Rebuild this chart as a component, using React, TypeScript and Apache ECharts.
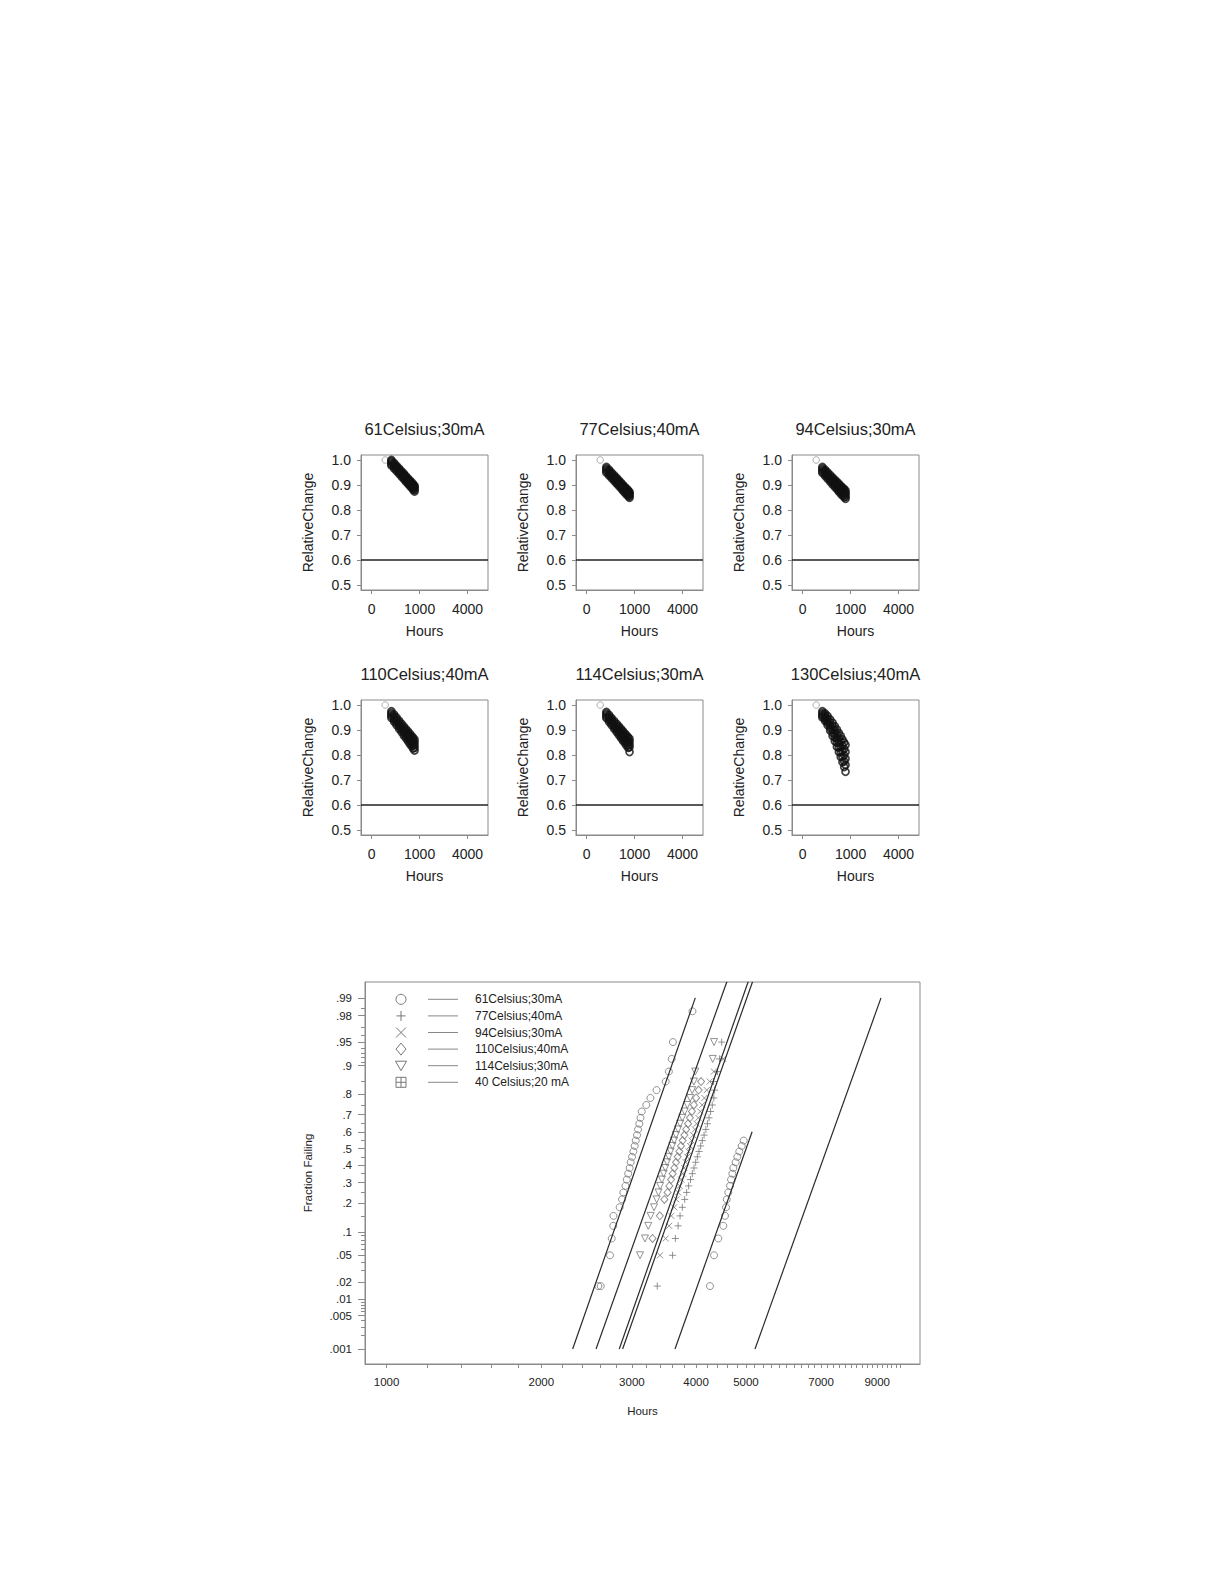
import React, { useEffect, useRef } from 'react';
import * as echarts from 'echarts';

const FONT = "'Liberation Sans', Arial, Helvetica, sans-serif";

// ---------- top panels ----------
const PANEL_TITLES = ['61Celsius;30mA', '77Celsius;40mA', '94Celsius;30mA', '110Celsius;40mA', '114Celsius;30mA', '130Celsius;40mA'];
const TOP_TIMES = [170, 220, 270, 330, 390, 450, 510, 570, 630, 690, 750, 800];
const FIRST_TIME = 80;
const FIRST_VALUE = 1.0;
const THRESHOLD = 0.6;
const TOP_X_TICKS = [0, 1000, 4000];
const TOP_Y_TICKS = [0.5, 0.6, 0.7, 0.8, 0.9, 1.0];

const P61_30 = [
  [1.000, 0.988, 0.977, 0.966, 0.955, 0.946, 0.936, 0.927, 0.919, 0.912, 0.904, 0.897],
  [0.995, 0.983, 0.972, 0.961, 0.950, 0.940, 0.931, 0.922, 0.914, 0.906, 0.898, 0.892],
  [0.990, 0.978, 0.967, 0.956, 0.945, 0.935, 0.926, 0.917, 0.909, 0.901, 0.893, 0.887],
  [0.984, 0.972, 0.961, 0.950, 0.939, 0.929, 0.920, 0.911, 0.903, 0.895, 0.887, 0.880],
  [0.978, 0.966, 0.955, 0.944, 0.933, 0.923, 0.914, 0.905, 0.897, 0.889, 0.881, 0.874],
];
const P77_40 = [
  [0.972, 0.961, 0.950, 0.939, 0.929, 0.919, 0.910, 0.901, 0.893, 0.886, 0.879, 0.872],
  [0.966, 0.955, 0.944, 0.933, 0.923, 0.913, 0.904, 0.895, 0.887, 0.880, 0.873, 0.867],
  [0.961, 0.950, 0.939, 0.928, 0.917, 0.908, 0.899, 0.890, 0.882, 0.875, 0.868, 0.862],
  [0.955, 0.944, 0.933, 0.922, 0.911, 0.902, 0.893, 0.884, 0.876, 0.868, 0.861, 0.855],
  [0.949, 0.938, 0.927, 0.916, 0.906, 0.896, 0.887, 0.878, 0.870, 0.862, 0.855, 0.849],
];
const P94_30 = [
  [0.972, 0.961, 0.951, 0.940, 0.930, 0.921, 0.913, 0.905, 0.897, 0.890, 0.884, 0.878],
  [0.966, 0.955, 0.944, 0.933, 0.923, 0.914, 0.906, 0.897, 0.889, 0.882, 0.876, 0.870],
  [0.960, 0.949, 0.938, 0.927, 0.917, 0.907, 0.899, 0.890, 0.882, 0.875, 0.868, 0.862],
  [0.954, 0.942, 0.931, 0.920, 0.909, 0.899, 0.891, 0.882, 0.874, 0.866, 0.859, 0.853],
  [0.948, 0.936, 0.925, 0.913, 0.902, 0.892, 0.883, 0.874, 0.865, 0.858, 0.851, 0.845],
];
const P110_40 = [
  [0.975, 0.962, 0.950, 0.937, 0.925, 0.914, 0.904, 0.895, 0.886, 0.877, 0.869, 0.862],
  [0.968, 0.955, 0.942, 0.929, 0.917, 0.905, 0.895, 0.885, 0.876, 0.867, 0.858, 0.851],
  [0.962, 0.948, 0.935, 0.921, 0.908, 0.897, 0.886, 0.875, 0.866, 0.856, 0.847, 0.840],
  [0.955, 0.941, 0.927, 0.913, 0.900, 0.888, 0.877, 0.866, 0.856, 0.846, 0.837, 0.829],
  [0.948, 0.933, 0.919, 0.904, 0.891, 0.878, 0.867, 0.856, 0.845, 0.835, 0.826, 0.818],
];
const P114_30 = [
  [0.972, 0.960, 0.948, 0.936, 0.925, 0.915, 0.905, 0.896, 0.887, 0.879, 0.871, 0.865],
  [0.966, 0.953, 0.941, 0.928, 0.917, 0.906, 0.896, 0.886, 0.877, 0.869, 0.860, 0.854],
  [0.960, 0.946, 0.934, 0.920, 0.908, 0.897, 0.886, 0.876, 0.867, 0.858, 0.849, 0.842],
  [0.953, 0.939, 0.926, 0.912, 0.900, 0.888, 0.877, 0.867, 0.857, 0.848, 0.839, 0.831],
  [0.947, 0.932, 0.919, 0.905, 0.892, 0.880, 0.869, 0.858, 0.848, 0.838, 0.829, 0.812],
];
const P130_40 = [
  [0.975, 0.966, 0.956, 0.942, 0.929, 0.915, 0.902, 0.888, 0.876, 0.862, 0.850, 0.840],
  [0.968, 0.958, 0.946, 0.930, 0.915, 0.899, 0.884, 0.868, 0.854, 0.838, 0.824, 0.812],
  [0.962, 0.951, 0.937, 0.919, 0.901, 0.883, 0.866, 0.849, 0.832, 0.815, 0.799, 0.785],
  [0.956, 0.943, 0.928, 0.908, 0.888, 0.869, 0.849, 0.830, 0.812, 0.793, 0.775, 0.760],
  [0.950, 0.936, 0.919, 0.898, 0.876, 0.855, 0.833, 0.812, 0.792, 0.771, 0.752, 0.733],
];
const PANELS = [P61_30, P77_40, P94_30, P110_40, P114_30, P130_40];

// ---------- bottom probability plot ----------
const PROB_TICKS = [0.001, 0.005, 0.01, 0.02, 0.05, 0.1, 0.2, 0.3, 0.4, 0.5, 0.6, 0.7, 0.8, 0.9, 0.95, 0.98, 0.99];
const PROB_MINOR = [0.002, 0.003, 0.004, 0.006, 0.007, 0.008, 0.009, 0.03, 0.04, 0.06, 0.07, 0.08, 0.09, 0.15, 0.25, 0.35, 0.45, 0.55, 0.65, 0.75, 0.85, 0.91, 0.92, 0.93, 0.94, 0.96, 0.97, 0.985];
const HOUR_TICKS = [1000, 2000, 3000, 4000, 5000, 7000, 9000];

const S130_40 = [[2581, 0.017], [2609, 0.017], [2720, 0.05], [2741, 0.083], [2760, 0.117], [2762, 0.15], [2840, 0.183], [2870, 0.217], [2887, 0.25], [2915, 0.283], [2932, 0.317], [2950, 0.35], [2970, 0.383], [2984, 0.417], [3002, 0.45], [3020, 0.483], [3038, 0.517], [3052, 0.55], [3070, 0.583], [3084, 0.617], [3101, 0.65], [3118, 0.683], [3135, 0.717], [3200, 0.75], [3260, 0.783], [3350, 0.817], [3490, 0.85], [3540, 0.883], [3585, 0.917], [3605, 0.95], [3935, 0.983]];
const S114_30 = [[3111, 0.05], [3181, 0.083], [3228, 0.117], [3263, 0.15], [3313, 0.183], [3353, 0.217], [3380, 0.25], [3405, 0.283], [3432, 0.317], [3458, 0.35], [3485, 0.383], [3512, 0.417], [3540, 0.45], [3568, 0.483], [3597, 0.517], [3625, 0.55], [3655, 0.583], [3690, 0.617], [3725, 0.65], [3760, 0.683], [3800, 0.717], [3845, 0.75], [3895, 0.783], [3930, 0.817], [3960, 0.85], [3985, 0.883], [4309, 0.917], [4334, 0.95]];
const S110_40 = [[3290, 0.083], [3400, 0.15], [3470, 0.217], [3520, 0.25], [3548, 0.283], [3575, 0.317], [3602, 0.35], [3628, 0.383], [3655, 0.417], [3683, 0.45], [3710, 0.483], [3738, 0.517], [3765, 0.55], [3795, 0.583], [3825, 0.617], [3858, 0.65], [3890, 0.683], [3925, 0.717], [3960, 0.75], [4000, 0.783], [4045, 0.817], [4090, 0.85]];
const S94_30 = [[3402, 0.05], [3490, 0.083], [3545, 0.117], [3580, 0.15], [3625, 0.183], [3660, 0.217], [3690, 0.25], [3716, 0.283], [3742, 0.317], [3768, 0.35], [3792, 0.383], [3818, 0.417], [3843, 0.45], [3868, 0.483], [3893, 0.517], [3920, 0.55], [3948, 0.583], [3978, 0.617], [4008, 0.65], [4040, 0.683], [4075, 0.717], [4110, 0.75], [4150, 0.783], [4195, 0.817], [4250, 0.85], [4330, 0.883], [4518, 0.917]];
const S77_40 = [[3361, 0.017], [3600, 0.05], [3645, 0.083], [3690, 0.117], [3722, 0.15], [3760, 0.183], [3800, 0.217], [3834, 0.25], [3868, 0.283], [3900, 0.317], [3932, 0.35], [3962, 0.383], [3992, 0.417], [4022, 0.45], [4052, 0.483], [4082, 0.517], [4112, 0.55], [4145, 0.583], [4178, 0.617], [4208, 0.65], [4238, 0.683], [4268, 0.717], [4300, 0.75], [4330, 0.783], [4345, 0.817], [4325, 0.85], [4403, 0.883], [4443, 0.917], [4485, 0.95]];
const S61_30 = [[4256, 0.017], [4334, 0.05], [4418, 0.083], [4518, 0.117], [4552, 0.15], [4573, 0.183], [4588, 0.217], [4620, 0.25], [4656, 0.283], [4677, 0.317], [4704, 0.35], [4725, 0.383], [4775, 0.417], [4810, 0.45], [4853, 0.483], [4906, 0.517], [4950, 0.55]];

const FIT_130 = [[2301, 0.001], [3985, 0.99]];
const FIT_114 = [[2555, 0.001], [4590, 0.995]];
const FIT_110 = [[2835, 0.001], [5050, 0.995]];
const FIT_94 = [[2878, 0.001], [5150, 0.995]];
const FIT_61 = [[3639, 0.001], [5140, 0.603]];
const FIT_40 = [[5207, 0.001], [9155, 0.99]];

const LEGEND_LABELS = ['61Celsius;30mA', '77Celsius;40mA', '94Celsius;30mA', '110Celsius;40mA', '114Celsius;30mA', '40 Celsius;20 mA'];
const LEGEND_SYMBOLS = ['circle', 'plus', 'cross', 'diamond', 'triangleDown', 'boxPlus'];

function probit(p: number): number {
  const a = [-3.969683028665376e1, 2.209460984245205e2, -2.759285104469687e2, 1.38357751867269e2, -3.066479806614716e1, 2.506628277459239];
  const b = [-5.447609879822406e1, 1.615858368580409e2, -1.556989798598866e2, 6.680131188771972e1, -1.328068155288572e1];
  const c = [-7.784894002430293e-3, -3.223964580411365e-1, -2.400758277161838, -2.549732539343734, 4.374664141464968, 2.938163982698783];
  const d = [7.784695709041462e-3, 3.224671290700398e-1, 2.445134137142996, 3.754408661907416];
  const pl = 0.02425;
  if (p < pl) {
    const q = Math.sqrt(-2 * Math.log(p));
    return (((((c[0] * q + c[1]) * q + c[2]) * q + c[3]) * q + c[4]) * q + c[5]) / ((((d[0] * q + d[1]) * q + d[2]) * q + d[3]) * q + 1);
  }
  if (p <= 1 - pl) {
    const q = p - 0.5;
    const r = q * q;
    return ((((((a[0] * r + a[1]) * r + a[2]) * r + a[3]) * r + a[4]) * r + a[5]) * q) / (((((b[0] * r + b[1]) * r + b[2]) * r + b[3]) * r + b[4]) * r + 1);
  }
  const q = Math.sqrt(-2 * Math.log(1 - p));
  return -(((((c[0] * q + c[1]) * q + c[2]) * q + c[3]) * q + c[4]) * q + c[5]) / ((((d[0] * q + d[1]) * q + d[2]) * q + d[3]) * q + 1);
}

const COL_LEFT = [361, 576, 792];
const ROW_TOP = [455, 700];
const PW = 127;
const PH = 135;
const TXT = '#222';
const AX = '#8a8a8a';
const SYM = '#777';

function buildOption() {
  const grid: any[] = [];
  const xAxis: any[] = [];
  const yAxis: any[] = [];
  const series: any[] = [];
  const graphic: any[] = [];

  PANELS.forEach((units, i) => {
    const left = COL_LEFT[i % 3];
    const top = ROW_TOP[Math.floor(i / 3)];
    grid.push({ left, top, width: PW, height: PH, show: true, borderColor: AX, borderWidth: 1, outerBoundsMode: 'none' });
    const xTicks = TOP_X_TICKS.map((h) => Math.sqrt(h));
    xAxis.push({
      gridIndex: i, type: 'value', min: -7, max: 76.7,
      axisLine: { show: true, onZero: false, lineStyle: { color: AX } },
      axisTick: { show: true, customValues: xTicks, length: 4, lineStyle: { color: AX } },
      axisLabel: { customValues: xTicks, formatter: (v: number) => String(Math.round(v * v)), fontSize: 14, color: TXT, fontFamily: FONT, margin: 12 },
      splitLine: { show: false },
      name: 'Hours', nameLocation: 'middle', nameGap: 34,
      nameTextStyle: { fontSize: 14, color: TXT, fontFamily: FONT },
    });
    yAxis.push({
      gridIndex: i, type: 'value', min: 0.48, max: 1.02,
      axisLine: { show: true, onZero: false, lineStyle: { color: AX } },
      axisTick: { show: true, customValues: TOP_Y_TICKS, length: 4, lineStyle: { color: AX } },
      axisLabel: { customValues: TOP_Y_TICKS, formatter: (v: number) => v.toFixed(1), fontSize: 14, color: TXT, fontFamily: FONT, margin: 10 },
      splitLine: { show: false },
      name: 'RelativeChange', nameLocation: 'middle', nameGap: 46,
      nameTextStyle: { fontSize: 14, color: TXT, fontFamily: FONT },
    });
    const pts: number[][] = [];
    units.forEach((u) => u.forEach((v, k) => pts.push([Math.sqrt(TOP_TIMES[k]), v])));
    series.push({
      type: 'scatter', xAxisIndex: i, yAxisIndex: i, silent: true,
      data: [[Math.sqrt(FIRST_TIME), FIRST_VALUE]],
      symbol: 'circle', symbolSize: 6.5,
      itemStyle: { color: 'rgba(0,0,0,0)', borderColor: '#999', borderWidth: 1 },
    });
    series.push({
      type: 'scatter', xAxisIndex: i, yAxisIndex: i, silent: true,
      data: pts, symbol: 'circle', symbolSize: 7,
      itemStyle: { color: 'rgba(0,0,0,0)', borderColor: '#111', borderWidth: 1.7 },
      markLine: {
        silent: true, symbol: ['none', 'none'], label: { show: false },
        lineStyle: { color: '#222', width: 1.5, type: 'solid' },
        data: [{ yAxis: THRESHOLD }],
      },
    });
    graphic.push({
      type: 'text', x: left + PW / 2, y: top - 26,
      style: { text: PANEL_TITLES[i], fontSize: 16.5, fontFamily: FONT, fill: TXT, align: 'center', verticalAlign: 'middle' },
    });
  });

  // bottom plot
  const gi = 6;
  grid.push({ left: 365, top: 982, width: 555, height: 382, show: true, borderColor: AX, borderWidth: 1, outerBoundsMode: 'none' });
  const hourMinor: number[] = [];
  for (let h = 1000; h <= 10000; h += 200) hourMinor.push(Math.log10(h));
  xAxis.push({
    gridIndex: gi, type: 'value', min: 2.958, max: 4.0375,
    axisLine: { show: true, onZero: false, lineStyle: { color: AX } },
    axisTick: { show: true, customValues: hourMinor, length: 4, lineStyle: { color: AX } },
    axisLabel: { customValues: HOUR_TICKS.map((h) => Math.log10(h)), formatter: (v: number) => String(Math.round(Math.pow(10, v))), fontSize: 11.5, color: TXT, fontFamily: FONT, margin: 12 },
    splitLine: { show: false },
    name: 'Hours', nameLocation: 'middle', nameGap: 41,
    nameTextStyle: { fontSize: 11.5, color: TXT, fontFamily: FONT },
  });
  const zMajor = PROB_TICKS.map(probit);
  yAxis.push({
    gridIndex: gi, type: 'value', min: -3.322, max: 2.572, position: 'left',
    axisLine: { show: true, onZero: false, lineStyle: { color: AX } },
    axisTick: { show: true, customValues: zMajor, length: 7, lineStyle: { color: AX } },
    axisLabel: {
      customValues: zMajor,
      formatter: (v: number) => {
        const k = zMajor.findIndex((z) => Math.abs(z - v) < 1e-4);
        return k >= 0 ? String(PROB_TICKS[k]).replace(/^0/, '') : '';
      },
      fontSize: 11.5, color: TXT, fontFamily: FONT, margin: 13,
    },
    splitLine: { show: false },
    name: 'Fraction Failing', nameLocation: 'middle', nameGap: 51,
    nameTextStyle: { fontSize: 11.5, color: TXT, fontFamily: FONT },
  });
  yAxis.push({
    gridIndex: gi, type: 'value', min: -3.322, max: 2.572, position: 'left', offset: 0,
    axisLine: { show: false, onZero: false },
    axisTick: { show: true, customValues: PROB_MINOR.map(probit), length: 4, lineStyle: { color: AX } },
    axisLabel: { show: false },
    splitLine: { show: false },
  });

  const toXY = (arr: number[][]) => arr.map(([h, p]) => [Math.log10(h), probit(p)]);
  const symItem = { color: 'rgba(0,0,0,0)', borderColor: SYM, borderWidth: 1 };
  const scat = (data: number[][], symbol: string, size: any, rotate = 0) => ({
    type: 'scatter', xAxisIndex: gi, yAxisIndex: gi, silent: true, data: toXY(data),
    symbol, symbolSize: size, symbolRotate: rotate, itemStyle: symItem,
  });
  series.push(scat(S130_40, 'circle', 7));
  series.push(scat(S114_30, 'triangle', 7, 180));
  series.push(scat(S110_40, 'diamond', [7, 8]));
  series.push(scat(S94_30, 'path://M0 0L10 10M10 0L0 10', 6));
  series.push(scat(S77_40, 'path://M5 0L5 10M0 5L10 5', 7));
  series.push(scat(S61_30, 'circle', 7));
  [FIT_130, FIT_114, FIT_110, FIT_94, FIT_61, FIT_40].forEach((f) => {
    series.push({
      type: 'line', xAxisIndex: gi, yAxisIndex: gi, silent: true, clip: true,
      data: toXY(f), symbol: 'none', showSymbol: false,
      lineStyle: { color: '#2a2a2a', width: 1.2 },
    });
  });

  // legend (graphic)
  const sx = 401, lx1 = 428, lx2 = 458, tx = 475, y0 = 999.3, dy = 16.6;
  const sst = { fill: 'none', stroke: SYM, lineWidth: 1 };
  LEGEND_LABELS.forEach((lab, k) => {
    const y = y0 + k * dy;
    const s = LEGEND_SYMBOLS[k];
    if (s === 'circle') graphic.push({ type: 'circle', shape: { cx: sx, cy: y, r: 5 }, style: sst });
    if (s === 'plus') {
      graphic.push({ type: 'line', shape: { x1: sx - 4.5, y1: y, x2: sx + 4.5, y2: y }, style: sst });
      graphic.push({ type: 'line', shape: { x1: sx, y1: y - 5, x2: sx, y2: y + 5 }, style: sst });
    }
    if (s === 'cross') {
      graphic.push({ type: 'line', shape: { x1: sx - 5, y1: y - 5, x2: sx + 5, y2: y + 5 }, style: sst });
      graphic.push({ type: 'line', shape: { x1: sx + 5, y1: y - 5, x2: sx - 5, y2: y + 5 }, style: sst });
    }
    if (s === 'diamond') graphic.push({ type: 'polygon', shape: { points: [[sx, y - 6], [sx + 5, y], [sx, y + 6], [sx - 5, y]] }, style: sst });
    if (s === 'triangleDown') graphic.push({ type: 'polygon', shape: { points: [[sx - 5.5, y - 4.5], [sx + 5.5, y - 4.5], [sx, y + 5]] }, style: sst });
    if (s === 'boxPlus') {
      graphic.push({ type: 'rect', shape: { x: sx - 5, y: y - 5, width: 10, height: 10 }, style: sst });
      graphic.push({ type: 'line', shape: { x1: sx - 5, y1: y, x2: sx + 5, y2: y }, style: sst });
      graphic.push({ type: 'line', shape: { x1: sx, y1: y - 5, x2: sx, y2: y + 5 }, style: sst });
    }
    graphic.push({ type: 'line', shape: { x1: lx1, y1: y, x2: lx2, y2: y }, style: { stroke: '#888', lineWidth: 1 } });
    graphic.push({
      type: 'text', x: tx, y,
      style: { text: lab, fontSize: 12, fontFamily: FONT, fill: TXT, align: 'left', verticalAlign: 'middle' },
    });
  });

  return {
    animation: false,
    backgroundColor: '#ffffff',
    textStyle: { fontFamily: FONT },
    grid, xAxis, yAxis, series, graphic,
  };
}

export default function App() {
  const ref = useRef<HTMLDivElement>(null);
  useEffect(() => {
    if (!ref.current) return;
    const chart = echarts.init(ref.current, undefined, { renderer: 'svg' });
    chart.setOption(buildOption() as any);
    return () => chart.dispose();
  }, []);
  return <div ref={ref} style={{ position: 'absolute', left: 0, top: 0, width: 1225, height: 1585 }} />;
}
